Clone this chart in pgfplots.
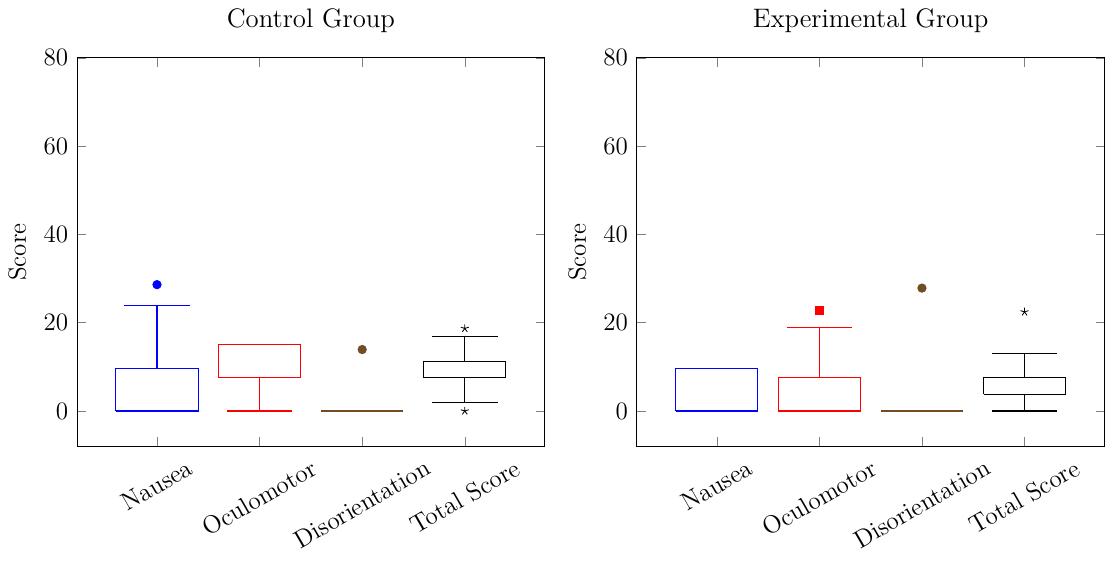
\documentclass[12pt,border=0pt]{standalone}
\usepackage{pgfplots}
\pgfplotsset{compat=1.18}
\colorlet{mybrown}{brown!60!black}
\begin{document}
\begin{tikzpicture}
\pgfplotsset{
  ssq/.style={
    scale only axis,
    width=224pt, height=186pt,
    ymin=-8, ymax=80,
    xmin=0.22, xmax=4.78,
    enlargelimits=false,
    unbounded coords=jump,
    xtick={1,2,3,4},
    xticklabels={Nausea,Oculomotor,Disorientation,Total Score},
    xticklabel style={rotate=30},
    ytick={0,20,40,60,80},
    ylabel={Score},
    title style={font=\fontsize{12.8}{15}\selectfont, yshift=2pt},
  },
  bx/.style={draw=#1, solid, mark=none, line join=miter, line width=0.5pt},
  out/.style={only marks, draw=#1, fill=#1},
}
% Control group
\begin{axis}[ssq, name=left, title={Control Group}]
% Nausea
\addplot[bx=blue] coordinates {(0.6,0) (1.4,0) (1.4,9.54) (0.6,9.54) (0.6,0) (1,nan)
  (1,9.54) (1,23.85) (1,nan) (0.68,23.85) (1.32,23.85) (1,nan) (0.68,0) (1.32,0)};
\addplot[out=blue, mark=*] coordinates {(1,28.62)};
% Oculomotor
\addplot[bx=red] coordinates {(1.6,7.58) (2.4,7.58) (2.4,15.16) (1.6,15.16) (1.6,7.58) (2,nan)
  (2,7.58) (2,0) (2,nan) (1.68,0) (2.32,0) (2,nan) (1.68,15.16) (2.32,15.16)};
% Disorientation
\addplot[bx=mybrown] coordinates {(2.6,0) (3.4,0)};
\addplot[out=mybrown, mark=otimes*] coordinates {(3,13.92)};
% Total
\addplot[bx=black] coordinates {(3.6,7.48) (4.4,7.48) (4.4,11.22) (3.6,11.22) (3.6,7.48) (4,nan)
  (4,11.22) (4,16.83) (4,nan) (3.68,16.83) (4.32,16.83) (4,nan)
  (4,7.48) (4,1.87) (4,nan) (3.68,1.87) (4.32,1.87)};
\addplot[only marks, black, mark=star] coordinates {(4,18.7) (4,0)};
\end{axis}
% Experimental group
\begin{axis}[ssq, at={(left.south east)}, anchor=south west, xshift=44pt, title={Experimental Group}]
% Nausea
\addplot[bx=blue] coordinates {(0.6,0) (1.4,0) (1.4,9.54) (0.6,9.54) (0.6,0)};
% Oculomotor
\addplot[bx=red] coordinates {(1.6,0) (2.4,0) (2.4,7.58) (1.6,7.58) (1.6,0) (2,nan)
  (2,7.58) (2,18.95) (2,nan) (1.68,18.95) (2.32,18.95)};
\addplot[out=red, mark=square*] coordinates {(2,22.74)};
% Disorientation
\addplot[bx=mybrown] coordinates {(2.6,0) (3.4,0)};
\addplot[out=mybrown, mark=otimes*] coordinates {(3,27.84)};
% Total
\addplot[bx=black] coordinates {(3.6,3.74) (4.4,3.74) (4.4,7.48) (3.6,7.48) (3.6,3.74) (4,nan)
  (4,7.48) (4,13.09) (4,nan) (3.68,13.09) (4.32,13.09) (4,nan)
  (4,3.74) (4,0) (4,nan) (3.68,0) (4.32,0)};
\addplot[only marks, black, mark=star] coordinates {(4,22.44)};
\end{axis}
\end{tikzpicture}
\end{document}
